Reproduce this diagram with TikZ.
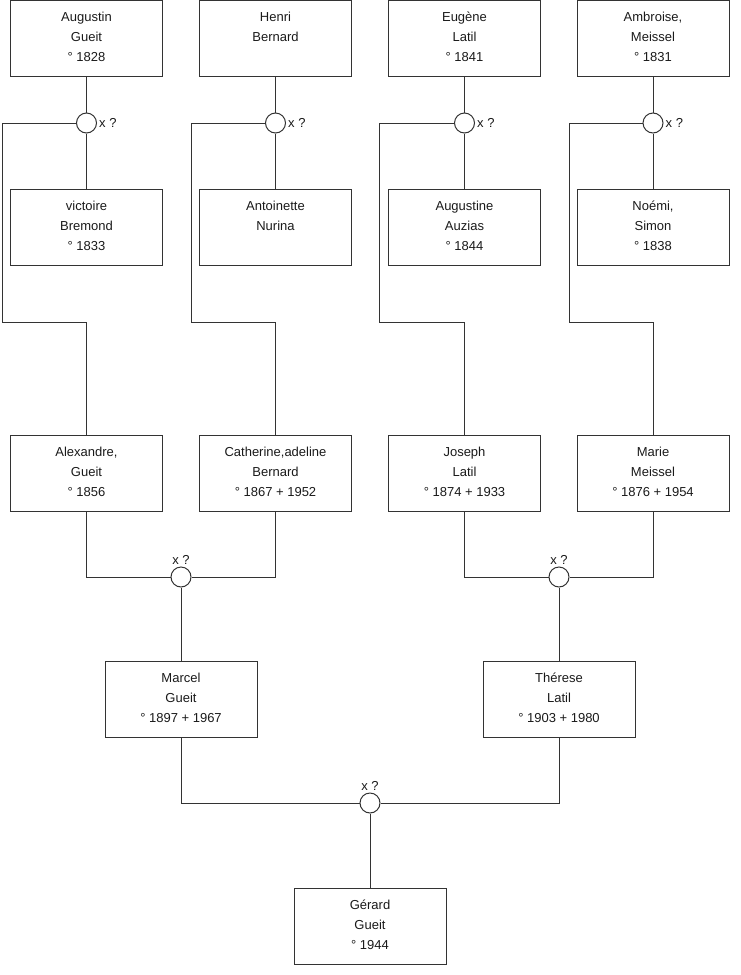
\documentclass[tikz,border=0pt]{standalone}
\usepackage{fontspec}
\setmainfont{Liberation Sans}
\newcommand{\Unknown}{x ?}
\definecolor{Frame}{HTML}{333333}
\definecolor{Ink}{HTML}{1A1A1A}

\tikzset{
  person/.style={draw=Frame, line width=1pt, minimum width=152pt,
    minimum height=76pt, inner sep=0pt},
  namelines/.style={anchor=north, align=center, inner sep=0pt,
    yshift=-10.5pt, font=\fontsize{13}{20}\selectfont, text=Ink},
  union/.style={circle, draw=Frame, line width=1pt, fill=white,
    minimum size=20pt, inner sep=0pt},
  unionnote/.style={font=\fontsize{13}{15}\selectfont, text=Ink, inner sep=2pt},
  link/.style={draw=Frame, line width=1pt}
}

\begin{document}
\begin{tikzpicture}[x=1pt,y=1pt]

  \useasboundingbox (0,0) rectangle (740,-975);

  % great-grandparents
  \node[person, label={[namelines]north:{\rule{0pt}{11pt}Augustin\\Gueit\\° 1828}}]
    (augustin) at (86.5,-38) {};
  \node[person, label={[namelines]north:{\rule{0pt}{11pt}Henri\\Bernard}}]
    (henri) at (275.5,-38) {};
  \node[person, label={[namelines]north:{\rule{0pt}{11pt}Eugène\\Latil\\° 1841}}]
    (eugene) at (464.5,-38) {};
  \node[person, label={[namelines]north:{\rule{0pt}{11pt}Ambroise,\\Meissel\\° 1831}}]
    (ambroise) at (653,-38) {};

  \node[person, label={[namelines]north:{\rule{0pt}{11pt}victoire\\Bremond\\° 1833}}]
    (victoire) at (86.5,-227) {};
  \node[person, label={[namelines]north:{\rule{0pt}{11pt}Antoinette\\Nurina}}]
    (antoinette) at (275.5,-227) {};
  \node[person, label={[namelines]north:{\rule{0pt}{11pt}Augustine\\Auzias\\° 1844}}]
    (augustine) at (464.5,-227) {};
  \node[person, label={[namelines]north:{\rule{0pt}{11pt}Noémi,\\Simon\\° 1838}}]
    (noemi) at (653,-227) {};

  % grandparents
  \node[person, label={[namelines]north:{\rule{0pt}{11pt}Alexandre,\\Gueit\\° 1856}}]
    (alexandre) at (86.5,-473) {};
  \node[person, label={[namelines]north:{\rule{0pt}{11pt}Catherine,adeline\\Bernard\\° 1867 + 1952}}]
    (catherine) at (275.5,-473) {};
  \node[person, label={[namelines]north:{\rule{0pt}{11pt}Joseph\\Latil\\° 1874 + 1933}}]
    (joseph) at (464.5,-473) {};
  \node[person, label={[namelines]north:{\rule{0pt}{11pt}Marie\\Meissel\\° 1876 + 1954}}]
    (marie) at (653,-473) {};

  % parents and child
  \node[person, label={[namelines]north:{\rule{0pt}{11pt}Marcel\\Gueit\\° 1897 + 1967}}]
    (marcel) at (181,-699.5) {};
  \node[person, label={[namelines]north:{\rule{0pt}{11pt}Thérese\\Latil\\° 1903 + 1980}}]
    (therese) at (559,-699.5) {};
  \node[person, label={[namelines]north:{\rule{0pt}{11pt}Gérard\\Gueit\\° 1944}}]
    (gerard) at (370,-926) {};

  % marriages
  \node[union, label={[unionnote]right:\Unknown}] (wedAG) at (86.5,-123) {};
  \node[union, label={[unionnote]right:\Unknown}] (wedHB) at (275.5,-123) {};
  \node[union, label={[unionnote]right:\Unknown}] (wedEL) at (464.5,-123) {};
  \node[union, label={[unionnote]right:\Unknown}] (wedAM) at (653,-123) {};
  \node[union, label={[unionnote]above:\Unknown}] (wedGB) at (181,-577) {};
  \node[union, label={[unionnote]above:\Unknown}] (wedLM) at (559,-577) {};
  \node[union, label={[unionnote]above:\Unknown}] (wedGL) at (370,-803) {};

  \coordinate (bendAG) at (2,-322);
  \coordinate (bendHB) at (191,-322);
  \coordinate (bendEL) at (379,-322);
  \coordinate (bendAM) at (569,-322);

  % links
  \foreach \husband/\wed/\wife/\bend/\child in {
      augustin/wedAG/victoire/bendAG/alexandre,
      henri/wedHB/antoinette/bendHB/catherine,
      eugene/wedEL/augustine/bendEL/joseph,
      ambroise/wedAM/noemi/bendAM/marie}{
    \draw[link] (\husband.south) -- (\wed.north);
    \draw[link] (\wed.south) -- (\wife.north);
    \draw[link] (\wed.west) -| (\bend) -| (\child.north);
  }

  \draw[link] (alexandre.south) |- (wedGB.west);
  \draw[link] (catherine.south) |- (wedGB.east);
  \draw[link] (wedGB.south) -- (marcel.north);

  \draw[link] (joseph.south) |- (wedLM.west);
  \draw[link] (marie.south) |- (wedLM.east);
  \draw[link] (wedLM.south) -- (therese.north);

  \draw[link] (marcel.south) |- (wedGL.west);
  \draw[link] (therese.south) |- (wedGL.east);
  \draw[link] (wedGL.south) -- (gerard.north);

\end{tikzpicture}
\end{document}
